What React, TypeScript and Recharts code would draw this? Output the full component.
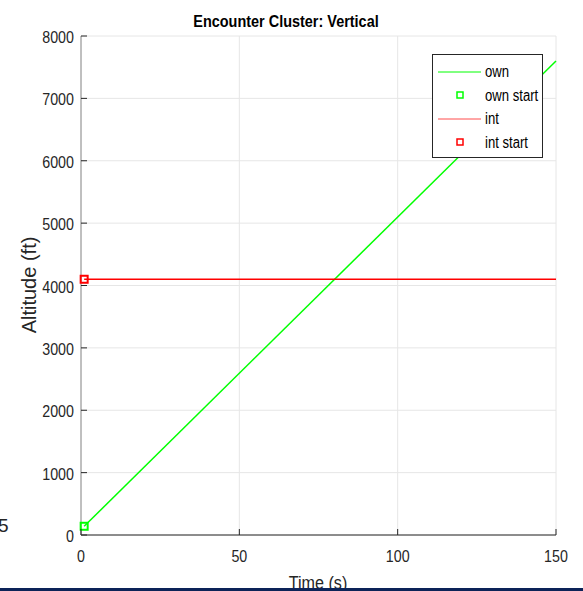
import React from 'react';
import {
  ComposedChart,
  Line,
  Scatter,
  XAxis,
  YAxis,
  CartesianGrid,
} from 'recharts';

// own track (time s, altitude ft)
const ownTime = [1, 150];
const ownAlt = [140, 7600];

// intruder track
const intTime = [1, 150];
const intAlt = [4100, 4100];

const xTicks = [0, 50, 100, 150];
const yTicks = [0, 1000, 2000, 3000, 4000, 5000, 6000, 7000, 8000];

const ownData = ownTime.map((t, i) => ({ t, alt: ownAlt[i] }));
const intData = intTime.map((t, i) => ({ t, alt: intAlt[i] }));
const ownStart = [ownData[0]];
const intStart = [intData[0]];

const FONT = '"Liberation Sans", Arial, sans-serif';

// squeezed text to look like a narrow face
const Narrow = ({ x, y, anchor = 'start', size = 16, weight = 'normal', fill = '#262626', sx = 0.82, children }: any) => (
  <g transform={`translate(${x},${y}) scale(${sx},1)`}>
    <text x={0} y={0} textAnchor={anchor} fontFamily={FONT} fontSize={size} fontWeight={weight} fill={fill}>
      {children}
    </text>
  </g>
);

const Square = (color: string) => (props: any) => {
  const { cx, cy } = props;
  if (cx == null || cy == null) return null;
  return <rect x={cx - 3.5} y={cy - 3.5} width={7} height={7} fill="none" stroke={color} strokeWidth={2} />;
};

const YTick = ({ x, y, payload }: any) => (
  <g>
    <line x1={81} x2={87} y1={y} y2={y} stroke="#262626" strokeWidth={1} />
    <Narrow x={x} y={y + 7} anchor="end" size={17} sx={0.84}>{payload.value}</Narrow>
  </g>
);

const XTick = ({ x, y, payload }: any) => (
  <g>
    <line x1={x} x2={x} y1={535} y2={529} stroke="#262626" strokeWidth={1} />
    <Narrow x={x} y={y + 27} anchor="middle" size={17} sx={0.84}>{payload.value}</Narrow>
  </g>
);

const Legend = () => (
  <div
    style={{
      position: 'absolute',
      left: 432,
      top: 54,
      width: 109,
      height: 102,
      border: '1px solid #262626',
      background: '#fff',
    }}
  >
    <svg width={109} height={102}>
      <line x1={5} x2={48} y1={17} y2={17} stroke="#00ff00" strokeWidth={1} />
      <Narrow x={52} y={22} size={16} fill="#000">own</Narrow>
      <rect x={24} y={37} width={6} height={6} fill="none" stroke="#00ff00" strokeWidth={1.5} />
      <Narrow x={52} y={46} size={16} fill="#000">own start</Narrow>
      <line x1={5} x2={48} y1={64} y2={64} stroke="#ff4d4d" strokeWidth={1} />
      <Narrow x={52} y={69} size={16} fill="#000">int</Narrow>
      <rect x={24} y={84} width={6} height={6} fill="none" stroke="#ff0000" strokeWidth={1.5} />
      <Narrow x={52} y={93} size={16} fill="#000">int start</Narrow>
    </svg>
  </div>
);

export default function App() {
  return (
    <div style={{ position: 'absolute', left: 0, top: 0, width: 583, height: 591, background: '#fff', overflow: 'hidden' }}>
      <ComposedChart
        width={583}
        height={591}
        margin={{ top: 36, right: 27, bottom: 0, left: 0 }}
      >
        <CartesianGrid stroke="#e6e6e6" strokeWidth={1} />
        <XAxis
          dataKey="t"
          type="number"
          domain={[0, 150]}
          ticks={xTicks}
          axisLine={{ stroke: '#262626' }}
          tickLine={false}
          tick={<XTick />}
          tickSize={0}
          tickMargin={0}
          height={56}
          allowDuplicatedCategory={false}
        />
        <YAxis
          dataKey="alt"
          type="number"
          domain={[0, 8000]}
          ticks={yTicks}
          width={81}
          axisLine={{ stroke: '#8c8c8c' }}
          tickLine={false}
          tick={<YTick />}
          tickSize={0}
          tickMargin={7}
        />
        <Line data={ownData} dataKey="alt" stroke="#00ff00" strokeWidth={1.5} dot={false} isAnimationActive={false} />
        <Line data={intData} dataKey="alt" stroke="#ff0000" strokeWidth={1.5} dot={false} isAnimationActive={false} />
        <Scatter data={ownStart} dataKey="alt" shape={Square('#00ff00')} isAnimationActive={false} />
        <Scatter data={intStart} dataKey="alt" shape={Square('#ff0000')} isAnimationActive={false} />
        <Narrow x={286} y={27} anchor="middle" size={17} weight="bold" sx={0.85} fill="#000">
          Encounter Cluster: Vertical
        </Narrow>
        <g transform="translate(36,285) rotate(-90)">
          <text x={0} y={0} textAnchor="middle" fontFamily={FONT} fontSize={20} fill="#262626">
            Altitude (ft)
          </text>
        </g>
        <Narrow x={318} y={589} anchor="middle" size={19} sx={0.85}>Time (s)</Narrow>
      </ComposedChart>
      <Legend />
      <div style={{ position: 'absolute', left: -2, top: 515, fontFamily: FONT, fontSize: 19, color: '#262626' }}>5</div>
      <div style={{ position: 'absolute', left: 0, top: 588, width: 583, height: 3, background: '#0c2358' }} />
    </div>
  );
}
